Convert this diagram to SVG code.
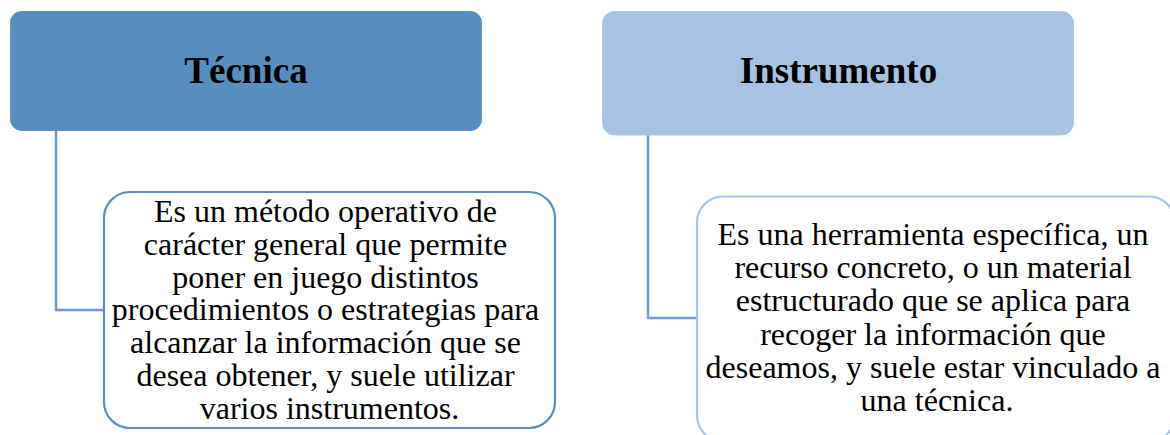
<svg xmlns="http://www.w3.org/2000/svg" width="1170" height="435" viewBox="0 0 1170 435">
  <style>
    .title { font-family: "Liberation Serif", "Times New Roman", serif; font-weight: bold; font-size: 37px; fill: #000; text-anchor: middle; }
    .body { font-family: "Liberation Serif", "Times New Roman", serif; font-size: 32px; fill: #000; text-anchor: middle; }
    .conn { fill: none; stroke-width: 2.5; }
  </style>
  <rect width="1170" height="435" fill="#ffffff"/>
  <g id="connectors">
    <path class="conn" d="M56,131 V310 H104" stroke="#6b9bd0"/>
    <path class="conn" d="M648,135 V318 H697" stroke="#6f9fd4"/>
  </g>
  <g id="tecnica">
    <rect x="10.5" y="11.5" width="471" height="119" rx="11" ry="11" fill="#588ebf" stroke="#5d92c3" stroke-width="1"/>
    <text class="title" x="246" y="83">Técnica</text>
  </g>
  <g id="instrumento">
    <rect x="602.5" y="11.5" width="471" height="123.5" rx="12" ry="12" fill="#a8c2e1" stroke="#aec7e3" stroke-width="1"/>
    <text class="title" x="838.5" y="83">Instrumento</text>
  </g>
  <g id="tecnica-def">
    <rect x="104" y="192" width="451" height="236" rx="26" ry="26" fill="#ffffff" stroke="#5b8fc3" stroke-width="2.2"/>
    <text class="body" x="329.5">
      <tspan x="329.5" y="222">Es un método operativo de</tspan>
      <tspan x="329.5" y="254.8">carácter general que permite</tspan>
      <tspan x="329.5" y="287.6">poner en juego distintos</tspan>
      <tspan x="329.5" y="320.4">procedimientos o estrategias para</tspan>
      <tspan x="329.5" y="353.2">alcanzar la información que se</tspan>
      <tspan x="329.5" y="386">desea obtener, y suele utilizar</tspan>
      <tspan x="329.5" y="418.8">varios instrumentos.</tspan>
    </text>
  </g>
  <g id="instrumento-def">
    <rect x="697" y="196.5" width="478" height="245" rx="26" ry="26" fill="#ffffff" stroke="#a9c5e6" stroke-width="2.2"/>
    <text class="body" x="937">
      <tspan x="937" y="245">Es una herramienta específica, un</tspan>
      <tspan x="937" y="278.2">recurso concreto, o un material</tspan>
      <tspan x="937" y="311.4">estructurado que se aplica para</tspan>
      <tspan x="937" y="344.6">recoger la información que</tspan>
      <tspan x="937" y="377.8">deseamos, y suele estar vinculado a</tspan>
      <tspan x="937" y="411">una técnica.</tspan>
    </text>
  </g>
</svg>
